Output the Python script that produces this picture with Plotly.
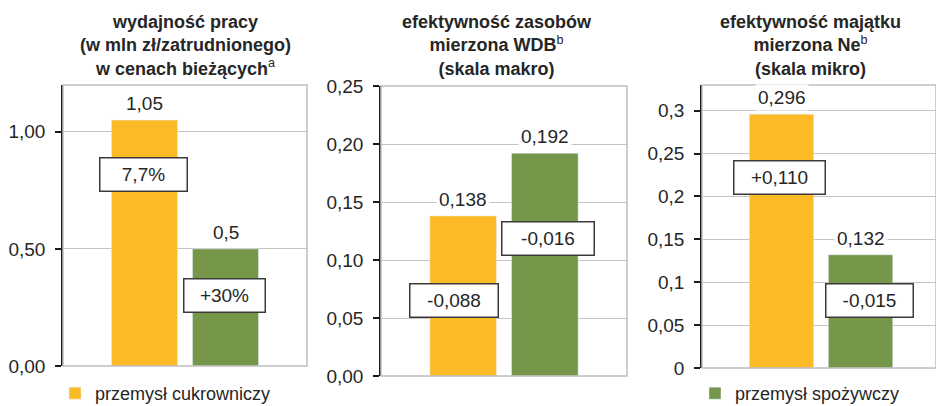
import plotly.graph_objects as go

# ---------------- data ----------------
panel_titles = [
    "<b>wydajność pracy</b><br><b>(w mln zł/zatrudnionego)</b><br><b>w cenach bieżących</b><sup>a</sup>",
    "<b>efektywność zasobów</b><br><b>mierzona WDB</b><sup>b</sup><br><b>(skala makro)</b>",
    "<b>efektywność majątku</b><br><b>mierzona Ne</b><sup>b</sup><br><b>(skala mikro)</b>",
]
series_names = ["przemysł cukrowniczy", "przemysł spożywczy"]
sugar_values = [1.05, 0.138, 0.296]
food_values = [0.5, 0.192, 0.132]
sugar_value_labels = ["1,05", "0,138", "0,296"]
food_value_labels = ["0,5", "0,192", "0,132"]
sugar_change_labels = ["7,7%", "-0,088", "+0,110"]
food_change_labels = ["+30%", "-0,016", "-0,015"]
p1_tickvals = [0, 0.5, 1.0]
p1_ticktext = ["0,00", "0,50", "1,00"]
p2_tickvals = [0, 0.05, 0.10, 0.15, 0.20, 0.25]
p2_ticktext = ["0,00", "0,05", "0,10", "0,15", "0,20", "0,25"]
p3_tickvals = [0, 0.05, 0.1, 0.15, 0.2, 0.25, 0.3]
p3_ticktext = ["0", "0,05", "0,1", "0,15", "0,2", "0,25", "0,3"]

# ---------------- style / layout ----------------
W, H = 936, 406
ORANGE = "#FDBA27"
GREEN = "#76964A"
TXT = "#262626"
FONT = "Liberation Sans"
BARGAP, BARGROUPGAP = 0.336, 0.185
slot = (1 - BARGAP) / 2
xc = [-slot / 2, slot / 2]

def px_x(p):
    return p / W

def px_y(p):
    return 1 - p / H

xdomains = [[px_x(63), px_x(307)], [px_x(381), px_x(627)], [px_x(702), 1.0]]
ydomains = [[px_y(366), px_y(85)], [px_y(376), px_y(86)], [px_y(368), px_y(85)]]
yranges = [[0, 1.2], [0, 0.25], [0, 0.33]]
xranges = [[-0.5, 0.5], [-0.5, 0.5], [-0.5, 0.483]]
ticks = [(p1_tickvals, p1_ticktext), (p2_tickvals, p2_ticktext), (p3_tickvals, p3_ticktext)]
title_x = [185.5, 497, 810.5]

# change-box placement (y in data units, x shift in px, box size px)
sugar_box = [(0.816, -1.5, 89), (0.0647, -9.5, 90), (0.222, -2.5, 93)]
food_box = [(0.303, -1.5, 83), (0.1185, 3.5, 94), (0.0785, 8.5, 89)]
BOX_H = 35

fig = go.Figure()
annotations = []
shapes = []
layout_axes = {}

for i in range(3):
    n = "" if i == 0 else str(i + 1)
    xa, ya = "x" + n, "y" + n
    fig.add_trace(go.Bar(
        x=[0], y=[sugar_values[i]], name=series_names[0], marker_color=ORANGE,
        xaxis=xa, yaxis=ya, showlegend=(i == 0), legend="legend",
        legendgroup="s", hoverinfo="skip"))
    fig.add_trace(go.Bar(
        x=[0], y=[food_values[i]], name=series_names[1], marker_color=GREEN,
        xaxis=xa, yaxis=ya, showlegend=(i == 0), legend="legend2",
        legendgroup="f", hoverinfo="skip"))

    layout_axes["xaxis" + n] = dict(domain=xdomains[i], range=xranges[i], visible=False,
                                    anchor=ya, fixedrange=True)
    tv, tt = ticks[i]
    layout_axes["yaxis" + n] = dict(
        domain=ydomains[i], range=yranges[i], anchor=xa,
        tickvals=tv, ticktext=tt, ticks="outside", ticklen=6, tickwidth=1.5,
        tickcolor="#1a1a1a", showline=True, linecolor="#1a1a1a", linewidth=1.5,
        showgrid=True, gridcolor="#c4c4c4", gridwidth=1, zeroline=False,
        ticklabelstandoff=6,
        tickfont=dict(family=FONT, size=19, color=TXT), fixedrange=True)

    # plot border
    shapes.append(dict(type="rect", xref=xa + " domain", yref=ya + " domain",
                       x0=0, x1=1, y0=0, y1=1, line=dict(color="#bfbfbf", width=1.5),
                       layer="above"))

    # value labels
    for j, (val, lab) in enumerate([(sugar_values[i], sugar_value_labels[i]),
                                    (food_values[i], food_value_labels[i])]):
        annotations.append(dict(x=xc[j], y=val, xref=xa, yref=ya, text=lab,
                                showarrow=False, yanchor="bottom", yshift=3,
                                bgcolor="white", borderpad=2,
                                font=dict(family=FONT, size=19, color=TXT)))
    # change boxes
    for j, (lab, (by, sx, bw)) in enumerate([(sugar_change_labels[i], sugar_box[i]),
                                               (food_change_labels[i], food_box[i])]):
        annotations.append(dict(x=xc[j], y=by, xref=xa, yref=ya, text=lab,
                                showarrow=False, xshift=sx, width=bw - 3, height=BOX_H - 3,
                                align="center", valign="middle",
                                bgcolor="white", bordercolor="#3a3a3a", borderwidth=1.5,
                                borderpad=0,
                                font=dict(family=FONT, size=19, color=TXT)))
    # titles
    annotations.append(dict(x=px_x(title_x[i]), y=px_y(46), xref="paper", yref="paper",
                            text=panel_titles[i], showarrow=False,
                            xanchor="center", yanchor="middle", align="center",
                            font=dict(family=FONT, size=18, color=TXT)))

legend_common = dict(y=px_y(375), yanchor="top", xanchor="left", orientation="h",
                     maxheight=200, font=dict(family=FONT, size=18, color=TXT),
                     bgcolor="rgba(0,0,0,0)", itemclick=False, itemdoubleclick=False)

fig.update_layout(
    width=W, height=H,
    margin=dict(l=0, r=0, t=0, b=0, autoexpand=False),
    paper_bgcolor="white", plot_bgcolor="white",
    barmode="group", bargap=BARGAP, bargroupgap=BARGROUPGAP,
    font=dict(family=FONT, size=18, color=TXT),
    annotations=annotations, shapes=shapes,
    legend=dict(x=px_x(55), **legend_common),
    legend2=dict(x=px_x(695), **legend_common),
    **layout_axes,
)

fig.write_html("out.html", config={"displayModeBar": False},
               post_script="document.body.style.margin='0';document.body.style.overflow='hidden';")
